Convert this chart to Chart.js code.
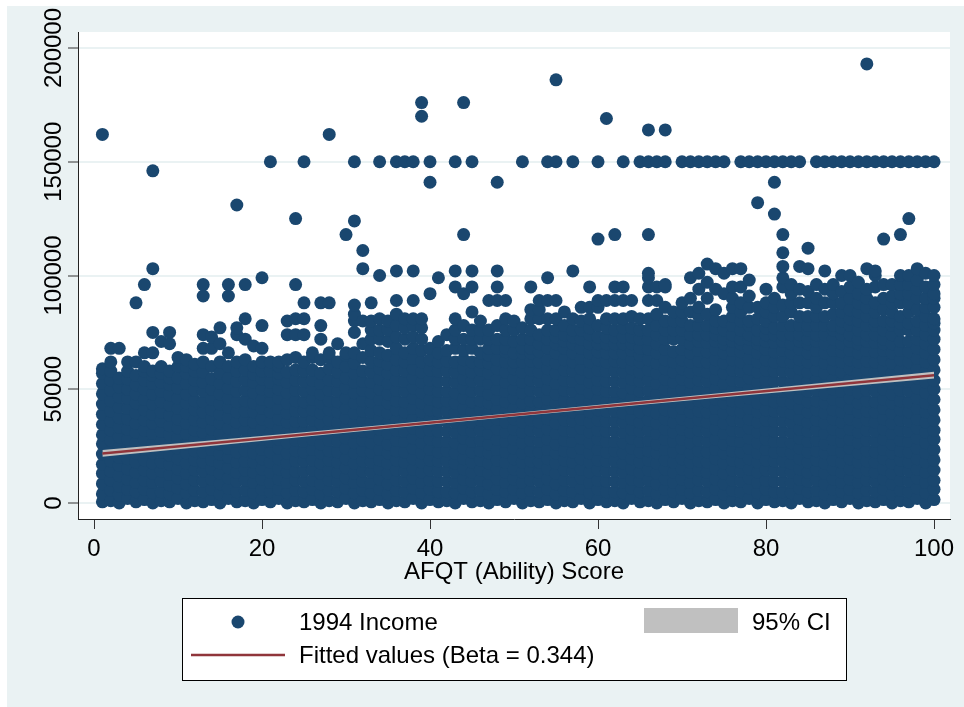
<!DOCTYPE html>
<html>
<head>
<meta charset="utf-8">
<script src="https://cdn.jsdelivr.net/npm/chart.js@4.4.0/dist/chart.umd.min.js"></script>
<style>
  html, body { margin: 0; padding: 0; background: #fff; }
  canvas { display: block; }
</style>
</head>
<body>
<canvas id="graficoIngreso" width="964" height="707"></canvas>
<script>
// Datos (ingreso en miles de dólares por puntaje AFQT)
const afqtScores = [1,2,3,4,5,6,7,8,9,10,11,12,13,14,15,16,17,18,19,20,
  21,22,23,24,25,26,27,28,29,30,31,32,33,34,35,36,37,38,39,40,
  41,42,43,44,45,46,47,48,49,50,51,52,53,54,55,56,57,58,59,60,
  61,62,63,64,65,66,67,68,69,70,71,72,73,74,75,76,77,78,79,80,
  81,82,83,84,85,86,87,88,89,90,91,92,93,94,95,96,97,98,99,100];

const incomeK = [
  "0.5 4 8.5 13 17 21.5 26 30 34.5 39 43.5 48 52.5 57 59 162",
  "1 5.5 10 14 18.5 23 27.5 32 36 40.5 45 49.5 54 58 62 68",
  "0 3.5 7.5 12 16.5 20 24.5 29 33.5 37.5 42 46.5 51 55 68",
  "2 6 10.5 15 19.5 24 28 32.5 37 41.5 46 50 54.5 58 62",
  "0.5 5 9 13.5 18 22 26.5 31 35 39.5 44 48 52 56 62 88",
  "1.5 6 10 14.5 19 23.5 28 32 36.5 41 45.5 50 54 58 60 66 96",
  "0 4.5 9 13 17.5 22 26 30.5 35 39 43.5 48 52.5 56 58 66 75 103 146",
  "1 5 9.5 14 18 22.5 27 31.5 36 40 44.5 49 53 57 60 71",
  "0.5 4 8 12.5 17 21 25.5 30 34 38.5 43 47.5 52 55 58 70 75",
  "2 6.5 11 15 19.5 24 28.5 33 37 41.5 46 50.5 55 60 64",
  "0 4.5 8.5 13 17.5 22 26 30.5 35 39.5 44 48 52.5 57 60 63",
  "1 5.5 10 14.5 19 23 27.5 32 36.5 41 45 49.5 54 58 61",
  "0.5 5 9.5 14 18 22.5 27 31 35.5 40 44.5 49 53 57.5 62 68 74 91 96",
  "1.5 6 10.5 15 19 23.5 28 32.5 37 41 45.5 50 54.5 60 68 73",
  "0 4 8.5 13 17.5 21.5 26 30.5 35 39 43.5 48 52.5 57 62 70 77",
  "2 6.5 11 15.5 20 24 28.5 33 37.5 42 46 50.5 55 60 66 91 96",
  "0.5 5 9.5 13.5 18 22.5 27 31.5 35.5 40 44.5 49 53.5 58 62 74 77 131",
  "1 5.5 10 14.5 18.5 23 27.5 32 36.5 40.5 45 49.5 54 58.5 63 72 81 96",
  "0 4.5 9 13.5 18 22 26.5 31 35.5 40 44 48.5 53 56.5 60 69",
  "1.5 6 10.5 15 19.5 23.5 28 32.5 37 41.5 45.5 50 54.5 58 62 68 78 99",
  "0.5 5 9 13.5 18 22.5 27 31 35.5 40 44.5 49 53 58 62 150",
  "2 6 10.5 15 19.5 24 28 32.5 37 41.5 46 50 54.5 57 60 62",
  "0 4.5 9 13.5 17.5 22 26.5 31 35.5 39.5 44 48.5 53 57.5 63 74 80",
  "1 5.5 10 14 18.5 23 27.5 32 36 40.5 45 49.5 54 58.5 64 74 81 96 125",
  "0.5 5 9.5 14 18.5 22.5 27 31.5 36 40.5 44.5 49 53.5 58 62 74 81 88 150",
  "1.5 6 10 14.5 19 23.5 28 32 36.5 41 45.5 50 54 58.5 64 66",
  "0 4 8.5 13 17.5 22 26 30.5 35 39.5 44 48 52.5 57 63 72 78 88",
  "1 5.5 10 14.5 19 23 27.5 32 36.5 41 45 49.5 54 59 64 66 88 162",
  "0.5 5 9.5 13.5 18 22.5 27 31.5 35.5 40 44.5 49 53.5 57.5 62 70",
  "2 6.5 11 15.5 19.5 24 28.5 33 37.5 41.5 46 50.5 55 60 65 66 118",
  "0 4.5 9 13 17.5 22 26.5 31 35 39.5 44 48.5 53 57 61.5 66 75 80 83 87 124 150",
  "1 5.5 9.5 14 18.5 23 27.5 31.5 36 40.5 45 49.5 53.5 58 64 70 80 103 111",
  "0.5 4.5 9 13.5 18 22.5 26.5 31 35.5 40 44.5 48.5 53 57.5 62 67 72 76 80 88",
  "1.5 6 10.5 15 19 23.5 28 32.5 37 41 45.5 50 54.5 59 62.5 66 72 76 81 100 150",
  "0 4 8.5 13 17.5 22 26 30.5 35 39.5 44 48 52.5 57 61 65 71 76 80",
  "1 5.5 10 14.5 19 23 27.5 32 36.5 41 45 49.5 54 58.5 63 68 73 78 83 89 102 150",
  "0.5 5 9.5 14 18 22.5 27 31.5 36 40 44.5 49 53.5 58 62 66 72 77 81 150",
  "2 6.5 11 15 19.5 24 28.5 33 37 41.5 46 50.5 55 59 63.5 68 73 78 81 89 102 150",
  "0 4.5 9 13.5 18 22 26.5 31 35.5 40 44 48.5 53 57.5 62 67 72 77 81 170 176",
  "1.5 6 10 14.5 19 23.5 28 32 36.5 41 45.5 50 54 58.5 63 68 92 141 150",
  "0.5 5 9.5 14 18.5 22.5 27 31.5 36 40.5 44.5 49 53.5 58 62 66 71 99",
  "1 5 9.5 14 18.5 23 27 31.5 36 40.5 45 49 53.5 58 62.5 67 74",
  "0 4.5 9 13.5 17.5 22 26.5 31 35.5 39.5 44 48.5 53 57.5 62 68 72 76 81 95 102 150",
  "2 6.5 10.5 15 19.5 24 28.5 32.5 37 41.5 46 50.5 54.5 59 63 67 72 78 92 118 176",
  "0.5 5 9.5 13.5 18 22.5 27 31.5 35.5 40 44.5 49 53.5 57.5 62 68 72 76 84 95 102 150",
  "1 5.5 10 14.5 19 23 27.5 32 36.5 41 45 49.5 54 58.5 62 66 72 76 80",
  "0 4 8.5 13 17.5 22 26 30.5 35 39.5 44 48 52.5 57 61.5 65 68 72 76 89",
  "1.5 6 10.5 15 19 23.5 28 32.5 37 41 45.5 50 54.5 59 63 68 72 78 89 95 102 141",
  "0.5 5 9 13.5 18 22.5 27 31 35.5 40 44.5 49 53 57.5 62 66.5 68 72 76 81 89",
  "2 6 10.5 15 19.5 24 28 32.5 37 41.5 46 50 54.5 59 62 66 71 76 80",
  "0 4.5 9 13.5 18 22 26.5 31 35.5 40 44 48.5 53 57.5 62 66 68 72 77 150",
  "1 5.5 10 14.5 18.5 23 27.5 32 36.5 40.5 45 49.5 54 58.5 62.5 66 68 72 76 81 85 95",
  "0.5 5 9.5 13.5 18 22.5 27 31.5 35.5 40 44.5 49 53.5 57.5 62 66.5 70 74 81 85 89",
  "1.5 6 10.5 15 19.5 23.5 28 32.5 37 41.5 45.5 50 54.5 59 63 68 72 76 81 89 99 150",
  "0 4 8.5 13 17.5 22 26 30.5 35 39.5 44 48 52.5 57 61.5 66 70 73 76 81 89 150 186",
  "1 5.5 10 14.5 19 23 27.5 32 36.5 41 45 49.5 54 58.5 63 68 71 74 78 84",
  "0.5 5 9.5 14 18 22.5 27 31.5 36 40 44.5 49 53.5 58 62 66 70 73 76 81 102 150",
  "2 6.5 11 15 19.5 24 28.5 33 37 41.5 46 50.5 55 59 63.5 68 72 76 80 86",
  "0 4.5 9 13.5 18 22 26.5 31 35.5 40 44 48.5 53 57.5 62 66 70 74 77 81 86 95",
  "1.5 6 10 14.5 19 23.5 28 32 36.5 41 45.5 50 54 58.5 63 66.5 70 73 78 86 89 116 150",
  "0.5 5 9.5 14 18.5 22.5 27 31.5 36 40.5 44.5 49 53.5 58 62 66 70 73 77 81 89 169",
  "1 5 9.5 14 18.5 23 27 31.5 36 40.5 45 49 53.5 58 62.5 66 70 73 76 81 89 95 118",
  "0 4.5 9 13.5 17.5 22 26.5 31 35.5 39.5 44 48.5 53 57.5 62 66 70 73 77 81 89 95 150",
  "2 6.5 10.5 15 19.5 24 28.5 32.5 37 41.5 46 50.5 54.5 59 63 67 70 73 77 82 89",
  "0.5 5 9.5 13.5 18 22.5 27 31.5 35.5 40 44.5 49 53.5 57.5 62 65 68 72 76 81 150",
  "1 5.5 10 14.5 19 23 27.5 32 36.5 41 45 49.5 54 58.5 63 67.5 72 76 81 89 95 99 101 118 150 164",
  "0 4 8.5 13 17.5 22 26 30.5 35 39.5 44 48 52.5 57 61.5 66 70 74 78 83 89 95 150",
  "1.5 6 10.5 15 19 23.5 28 32.5 37 41 45.5 50 54.5 59 63 67.5 72 76 80 86 95 96 150 164",
  "0.5 5 9 13.5 18 22.5 27 31 35.5 40 44.5 49 53 57.5 62 66.5 72 76 80 84",
  "2 6 10.5 15 19.5 24 28 32.5 37 41.5 46 50 54.5 59 63 67.5 72 76 80 84 88 150",
  "0 4.5 9 13.5 18 22 26.5 31 35.5 40 44 48.5 53 57.5 62 66 70 74 78 84 90 99 150",
  "1 5.5 10 14.5 18.5 23 27.5 32 36.5 40.5 45 49.5 54 58.5 62.5 67 71 74 78 82 86 94 101 150",
  "0.5 5 9.5 13.5 18 22.5 27 31.5 35.5 40 44.5 49 53.5 57.5 62 66.5 70.5 74 78 83 90 97 105 150",
  "1.5 6 10.5 15 19.5 23.5 28 32.5 37 41.5 45.5 50 54.5 59 63 67.5 71 74 77 80 85 94 103 150",
  "0 4 8.5 13 17.5 22 26 30.5 35 39.5 44 48 52.5 57 61.5 66 70 72 76 80 92 101 150",
  "1 5.5 10 14.5 19 23 27.5 32 36.5 41 45 49.5 54 58.5 63 67 71 74 78 82 86 90 95 103",
  "0.5 5 9.5 14 18 22.5 27 31.5 36 40 44.5 49 53.5 58 62 66.5 70 72 76 80 84 88 95 103 150",
  "2 6.5 11 15 19.5 24 28.5 33 37 41.5 46 50.5 55 59 63.5 68 72 74 78 80 86 91 98 150",
  "0 4.5 9 13.5 18 22 26.5 31 35.5 40 44 48.5 53 57.5 62 66 70 72 76 81 86 132 150",
  "1.5 6 10 14.5 19 23.5 28 32 36.5 41 45.5 50 54 58.5 63 67.5 71 74 77 80 84 88 94 150",
  "0.5 5 9.5 14 18.5 22.5 27 31.5 36 40.5 44.5 49 53.5 58 62 66.5 70.5 74 77 82 86 90 127 141 150",
  "1 5 9.5 14 18.5 23 27 31.5 36 40.5 45 49 53.5 58 62.5 67 71 74 78 82 87 95 99 104 110 118 150",
  "0 4.5 9 13.5 17.5 22 26.5 31 35.5 39.5 44 48.5 53 57.5 62 66 70 74 78 84 88 92 96 150",
  "2 6.5 10.5 15 19.5 24 28.5 32.5 37 41.5 46 50.5 54.5 59 63 67.5 71 74 78 82 88 94 104 150",
  "0.5 5 9.5 13.5 18 22.5 27 31.5 35.5 40 44.5 49 53.5 57.5 62 66 70 72 76 78 82 88 93 103 112",
  "1 5.5 10 14.5 19 23 27.5 32 36.5 41 45 49.5 54 58.5 63 67 71 74 78 82 86 90 96 150",
  "0 4 8.5 13 17.5 22 26 30.5 35 39.5 44 48 52.5 57 61.5 66 70 74 78 82 88 94 102 150",
  "1.5 6 10.5 15 19 23.5 28 32.5 37 41 45.5 50 54.5 59 63 67 72 76 78 83 88 92 96 150",
  "0.5 5 9 13.5 18 22.5 27 31 35.5 40 44.5 49 53 57.5 62 66.5 70 74 77 80 84 88 93 100 150",
  "2 6 10.5 15 19.5 24 28 32.5 37 41.5 46 50 54.5 59 63 67 71 74 78 81 85 90 95 100 150",
  "0 4.5 9 13.5 18 22 26.5 31 35.5 40 44 48.5 53 57.5 62 66 70 72 76 80 84 88 92 97 150",
  "1 5.5 10 14.5 18.5 23 27.5 32 36.5 40.5 45 49.5 54 58.5 62.5 67 71 74 78 82 86 90 94 103 150 193",
  "0.5 5 9.5 13.5 18 22.5 27 31.5 35.5 40 44.5 49 53.5 57.5 62 66.5 70.5 74 78 80 84 88 95 100 102 150",
  "1.5 6 10.5 15 19.5 23.5 28 32.5 37 41.5 45.5 50 54.5 59 63 67 70 72 76 80 85 90 96 116 150",
  "0 4 8.5 13 17.5 22 26 30.5 35 39.5 44 48 52.5 57 61.5 66 70 74 78 80 84 88 91 96 150",
  "1 5.5 10 14.5 19 23 27.5 32 36.5 41 45 49.5 54 58.5 63 67 71 76 79 82 88 92 96 100 118 150",
  "0.5 5 9.5 14 18 22.5 27 31.5 36 40 44.5 49 53.5 58 62 66.5 71 76 79 84 88 92 96 100 125 150",
  "2 6.5 11 15 19.5 24 28.5 33 37 41.5 46 50.5 55 59 63.5 68 72 76 80 85 90 94 98 103 150",
  "0 4.5 9 13.5 18 22 26.5 31 35.5 40 44 48.5 53 57.5 62 66 70 74 78 82 86 90 95 101 150",
  "1.5 6 10 14.5 19 23.5 28 32 36.5 41 45.5 50 54 58.5 63 67.5 72 76 79 81 86 90 92 96 100 150"
];

// Recta ajustada y banda de confianza del 95%
const fitScores = [1, 100];
const fitValues = [21800, 56200];
const ciScores = [1, 25, 50, 75, 100];
const ciUpper = [23300, 31100, 39600, 48500, 57700];
const ciLower = [20300, 29100, 38000, 46500, 54700];

// Marcas de los ejes
const xTicks = [0, 20, 40, 60, 80, 100];
const yTicks = [0, 50000, 100000, 150000, 200000];

const fuente = 'Liberation Sans, Arial, sans-serif';
const azul = '#1a476f';
const rojo = '#90353b';
const gris = '#c0c0c0';
const fondo = '#eaf2f3';

const puntos = [];
afqtScores.forEach((s, i) => {
  incomeK[i].split(' ').forEach(v => puntos.push({ x: s, y: parseFloat(v) * 1000 }));
});

// Fondo estilo Stata
const fondoPlugin = {
  id: 'fondoStata',
  beforeDraw(chart) {
    const { ctx, chartArea } = chart;
    ctx.save();
    ctx.fillStyle = '#fff';
    ctx.fillRect(0, 0, chart.width, chart.height);
    ctx.fillStyle = fondo;
    ctx.fillRect(7, 6, chart.width - 7, chart.height - 6);
    ctx.fillStyle = '#fff';
    ctx.fillRect(chartArea.left, chartArea.top, chartArea.right - chartArea.left, chartArea.bottom - chartArea.top);
    ctx.restore();
  }
};

// Etiquetas del eje Y giradas y leyenda en caja
const etiquetasPlugin = {
  id: 'etiquetasStata',
  afterDraw(chart) {
    const { ctx } = chart;
    const y = chart.scales.y;
    ctx.save();
    ctx.fillStyle = '#000';
    ctx.font = '24px ' + fuente;
    y.ticks.forEach(t => {
      const py = y.getPixelForValue(t.value);
      ctx.save();
      ctx.translate(61, py);
      ctx.rotate(-Math.PI / 2);
      ctx.textAlign = 'center';
      ctx.textBaseline = 'alphabetic';
      ctx.fillText(String(t.value), 0, 0);
      ctx.restore();
    });

    // leyenda
    const ds = chart.data.datasets;
    ctx.fillStyle = '#fff';
    ctx.fillRect(182, 598, 664, 82);
    ctx.strokeStyle = '#000';
    ctx.lineWidth = 1;
    ctx.strokeRect(182.5, 598.5, 664, 82);

    ctx.fillStyle = azul;
    ctx.beginPath();
    ctx.arc(238, 622, 6.5, 0, Math.PI * 2);
    ctx.fill();

    ctx.fillStyle = gris;
    ctx.fillRect(644, 608, 94, 25);

    ctx.strokeStyle = rojo;
    ctx.lineWidth = 2.5;
    ctx.beginPath();
    ctx.moveTo(191, 655);
    ctx.lineTo(285, 655);
    ctx.stroke();

    ctx.fillStyle = '#000';
    ctx.textAlign = 'left';
    ctx.textBaseline = 'middle';
    ctx.fillText(ds[0].label, 299, 623);
    ctx.fillText(ds[1].label, 752, 623);
    ctx.fillText(ds[3].label, 299, 656);
    ctx.restore();
  }
};

const ctxIngreso = document.getElementById('graficoIngreso').getContext('2d');

new Chart(ctxIngreso, {
  type: 'scatter',
  data: {
    datasets: [
      {
        label: '1994 Income',
        data: puntos,
        backgroundColor: azul,
        pointRadius: 6.5,
        pointBorderWidth: 0,
        order: 3
      },
      {
        label: '95% CI',
        type: 'line',
        showLine: true,
        data: ciScores.map((s, i) => ({ x: s, y: ciUpper[i] })),
        borderColor: 'rgba(0,0,0,0)',
        borderWidth: 0,
        pointRadius: 0,
        backgroundColor: gris,
        fill: '+1',
        order: 2
      },
      {
        label: 'IC inferior',
        type: 'line',
        showLine: true,
        data: ciScores.map((s, i) => ({ x: s, y: ciLower[i] })),
        borderColor: 'rgba(0,0,0,0)',
        borderWidth: 0,
        pointRadius: 0,
        fill: false,
        order: 2
      },
      {
        label: 'Fitted values (Beta = 0.344)',
        type: 'line',
        showLine: true,
        data: fitScores.map((s, i) => ({ x: s, y: fitValues[i] })),
        borderColor: rojo,
        borderWidth: 2.5,
        pointRadius: 0,
        fill: false,
        order: 1
      }
    ]
  },
  options: {
    responsive: false,
    animation: false,
    devicePixelRatio: 1,
    events: [],
    layout: { padding: { left: 0, top: 32, right: 14, bottom: 0 } },
    scales: {
      x: {
        type: 'linear',
        min: -1.905,
        max: 101.9,
        afterBuildTicks: s => { s.ticks = xTicks.map(v => ({ value: v })); },
        afterFit: s => { s.height = 188; },
        grid: { drawOnChartArea: false, tickLength: 10, tickColor: '#333', tickWidth: 1 },
        border: { color: '#222', width: 1 },
        ticks: { color: '#000', font: { family: fuente, size: 24 }, padding: 6, maxRotation: 0 },
        title: {
          display: true,
          text: 'AFQT (Ability) Score',
          color: '#000',
          font: { family: fuente, size: 24 },
          padding: { top: 0, bottom: 120 }
        }
      },
      y: {
        type: 'linear',
        min: -7030,
        max: 207030,
        afterBuildTicks: s => { s.ticks = yTicks.map(v => ({ value: v })); },
        afterFit: s => { s.width = 78; },
        grid: { color: fondo, lineWidth: 2, tickLength: 10, tickColor: '#333', tickWidth: 1 },
        border: { color: '#222', width: 1 },
        ticks: { display: false }
      }
    },
    plugins: {
      legend: { display: false },
      tooltip: { enabled: false },
      filler: { drawTime: 'beforeDatasetDraw' }
    }
  },
  plugins: [fondoPlugin, etiquetasPlugin]
});
</script>
</body>
</html>
